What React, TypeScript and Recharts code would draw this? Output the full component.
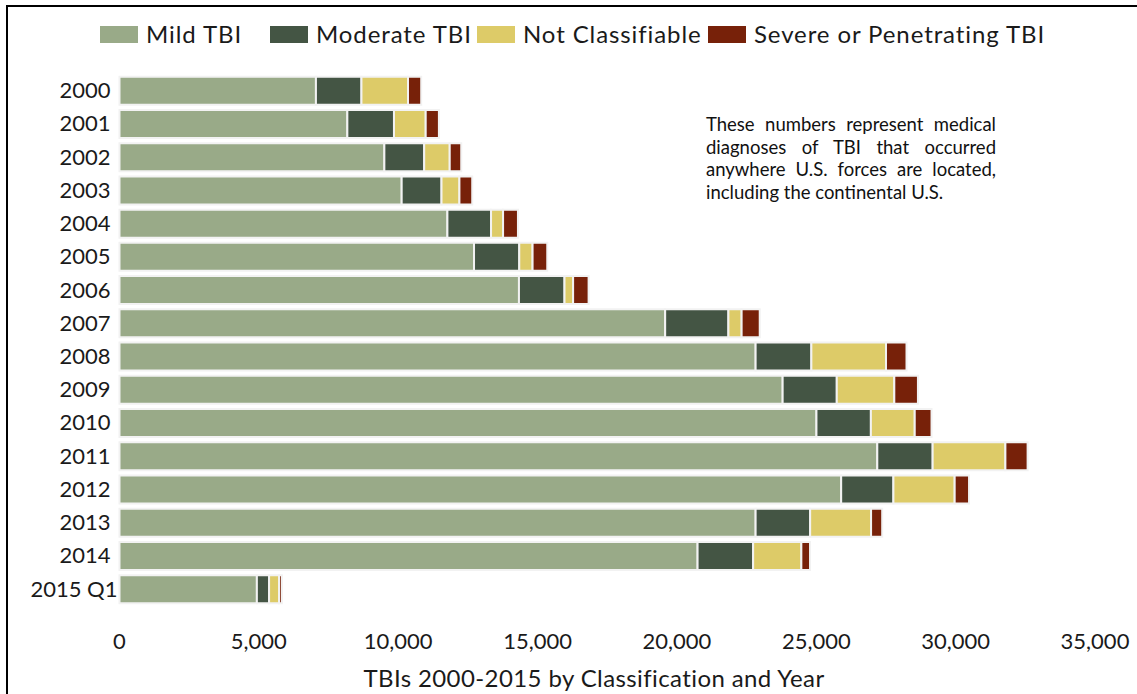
import React from "react";
import { BarChart, Bar, XAxis, YAxis, Label } from "recharts";

const years = ["2000", "2001", "2002", "2003", "2004", "2005", "2006", "2007", "2008", "2009", "2010", "2011", "2012", "2013", "2014", "2015 Q1"];
const mild = [7048, 8175, 9503, 10124, 11765, 12720, 14332, 19578, 22823, 23793, 25006, 27189, 25893, 22823, 20741, 4929];
const moderate = [1633, 1673, 1429, 1429, 1566, 1623, 1634, 2269, 2000, 1942, 1953, 1986, 1874, 1957, 1993, 438];
const notClassifiable = [1670, 1138, 916, 643, 431, 478, 309, 474, 2678, 2064, 1573, 2610, 2198, 2186, 1730, 359];
const severe = [474, 474, 413, 460, 534, 527, 556, 650, 736, 848, 603, 797, 516, 399, 312, 100];
const xTicks = [0, 5000, 10000, 15000, 20000, 25000, 30000, 35000];

const SERIES = [
	{ key: "mild", name: "Mild TBI", color: "#99aa88" },
	{ key: "moderate", name: "Moderate TBI", color: "#445544" },
	{ key: "nc", name: "Not Classifiable", color: "#ddcb68" },
	{ key: "severe", name: "Severe or Penetrating TBI", color: "#772109" },
];
const LEGEND_X = [100, 270, 477, 708];

const data = years.map((year, i) => ({
	year,
	mild: mild[i],
	moderate: moderate[i],
	nc: notClassifiable[i],
	severe: severe[i],
}));

const FONT = "Lato, 'Open Sans', sans-serif";
const TEXT = "#1a1a1a";

function YearTick(props: any) {
	const { x, y, payload } = props;
	const shift = String(payload.value).includes("Q") ? 7 : 0;
	return (
		<text x={x + shift} y={y} dy="0.355em" textAnchor="end" fontSize={22} fontFamily={FONT} fill={TEXT}>
			{payload.value}
		</text>
	);
}

export default function App() {
	return (
		<div style={{ position: "absolute", left: 0, top: 0, width: 1137, height: 694, overflow: "hidden", background: "#fff", fontFamily: FONT }}>
			<div style={{ position: "absolute", left: 6, top: 5, width: 1300, height: 900, borderLeft: "2px solid #000", borderTop: "2px solid #000" }} />

			{SERIES.map((s, i) => (
				<div key={s.key} style={{ position: "absolute", left: LEGEND_X[i], top: 21, height: 26, display: "flex", alignItems: "center", gap: 8, whiteSpace: "nowrap" }}>
					<span style={{ display: "inline-block", width: 38, height: 17, background: s.color }} />
					<span style={{ fontSize: 24, letterSpacing: 0.9, color: TEXT, lineHeight: 1 }}>{s.name}</span>
				</div>
			))}

			<div
				style={{
					position: "absolute",
					left: 706,
					top: 113,
					width: 290,
					fontSize: 18.5,
					lineHeight: "22.7px",
					textAlign: "justify",
					color: "#111",
				}}
			>
				These numbers represent medical diagnoses of TBI that occurred anywhere U.S. forces are located, including the continental U.S.
			</div>

			<div style={{ position: "absolute", left: 0, top: 0 }}>
				<BarChart width={1137} height={694} data={data} layout="vertical" margin={{ top: 73.7, right: 42, bottom: 0, left: 0 }}>
					<XAxis
						type="number"
						domain={[0, 35000]}
						ticks={xTicks}
						interval={0}
						axisLine={false}
						tickLine={false}
						tickMargin={22}
						height={88.6}
						tickFormatter={(v: number) => v.toLocaleString("en-US")}
						tick={{ fontSize: 22, fontFamily: FONT, fill: TEXT }}
					>
						<Label
							content={() => (
								<text x={594} y={687} textAnchor="middle" fontSize={24} letterSpacing={0.4} fontFamily={FONT} fill={TEXT}>
									TBIs 2000-2015 by Classification and Year
								</text>
							)}
						/>
					</XAxis>
					<YAxis type="category" dataKey="year" width={119.5} interval={0} axisLine={false} tickLine={false} tickMargin={3} tick={<YearTick />} />
					{SERIES.map((s) => (
						<Bar key={s.key} dataKey={s.key} name={s.name} stackId="a" fill={s.color} stroke="#f2f2f2" strokeWidth={2} barSize={28} isAnimationActive={false} />
					))}
				</BarChart>
			</div>
		</div>
	);
}
